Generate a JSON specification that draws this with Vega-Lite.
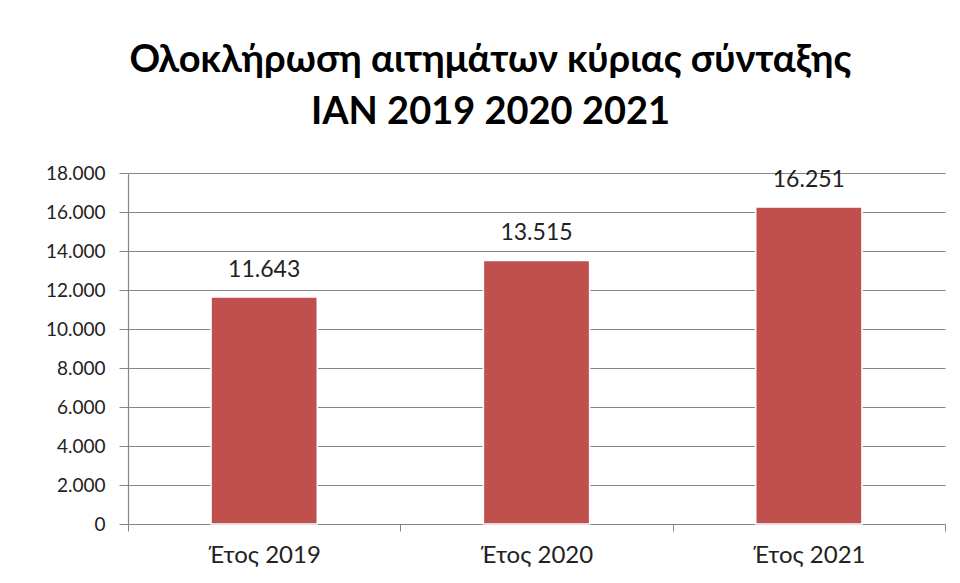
{
  "$schema": "https://vega.github.io/schema/vega-lite/v6.json",
  "autosize": {"type": "none"},
  "width": 817,
  "height": 351,
  "padding": {"left": 128, "top": 173, "right": 15, "bottom": 59},
  "background": "white",
  "config": {
    "locale": {"number": {"decimal": ",", "thousands": ".", "grouping": [3], "currency": ["", "€"]}},
    "view": {"stroke": null},
    "font": "Lato"
  },
  "title": {
    "text": ["Ολοκλήρωση αιτημάτων κύριας σύνταξης", "IAN 2019 2020 2021"],
    "font": "Lato",
    "fontSize": 38,
    "fontWeight": "bold",
    "color": "#000000",
    "anchor": "middle",
    "baseline": "alphabetic",
    "lineHeight": 52,
    "offset": 2,
    "dx": -46
  },
  "data": {
    "values": [
      {"year": "Έτος 2019", "value": 11643},
      {"year": "Έτος 2020", "value": 13515},
      {"year": "Έτος 2021", "value": 16251}
    ]
  },
  "encoding": {
    "x": {
      "field": "year",
      "type": "nominal",
      "sort": null,
      "scale": {"paddingInner": 0, "paddingOuter": 0},
      "axis": {
        "title": null,
        "labelAngle": 0,
        "labelFont": "Lato",
        "labelFontSize": 24,
        "labelColor": "#222222",
        "labelPadding": 12,
        "tickBand": "extent",
        "tickSize": 7,
        "tickColor": "#868686",
        "domainColor": "#868686",
        "domainWidth": 1.2,
        "grid": false
      }
    },
    "y": {
      "field": "value",
      "type": "quantitative",
      "scale": {"domain": [0, 18000], "nice": false},
      "axis": {
        "title": null,
        "values": [0, 2000, 4000, 6000, 8000, 10000, 12000, 14000, 16000, 18000],
        "format": ",.0f",
        "labelFont": "Lato",
        "labelFontSize": 19,
        "labelColor": "#222222",
        "labelPadding": 14,
        "tickSize": 9,
        "tickColor": "#868686",
        "domainColor": "#868686",
        "domainWidth": 1.2,
        "grid": true,
        "gridColor": "#868686",
        "gridWidth": 1.2
      }
    }
  },
  "layer": [
    {
      "mark": {"type": "bar", "color": "#C0504D", "stroke": "#ffffff", "strokeWidth": 1.5, "width": {"band": 0.39}}
    },
    {
      "mark": {"type": "text", "baseline": "alphabetic", "dy": -20, "font": "Lato", "fontSize": 23, "color": "#222222"},
      "encoding": {"text": {"field": "value", "type": "quantitative", "format": ",.0f"}}
    }
  ]
}
